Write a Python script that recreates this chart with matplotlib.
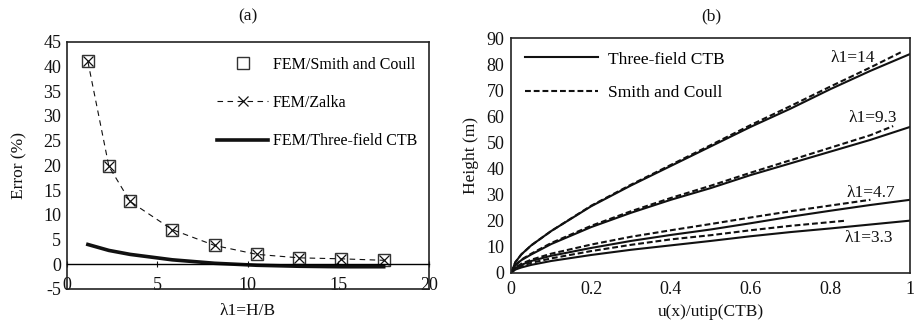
import matplotlib
matplotlib.use("Agg")
import matplotlib.pyplot as plt
import numpy as np

plt.rcParams['font.family'] = ['Liberation Serif', 'DejaVu Serif']
plt.rcParams['font.size'] = 12.5
plt.rcParams['axes.unicode_minus'] = False

# ---- panel (a) data ----
lam = [1.17, 2.33, 3.5, 5.83, 8.17, 10.5, 12.83, 15.17, 17.5]
err_smith = [41.0, 19.8, 12.7, 7.0, 3.8, 2.0, 1.3, 1.1, 0.8]
err_zalka = [41.0, 19.8, 12.7, 7.0, 3.8, 2.0, 1.3, 1.1, 0.8]
err_ctb = [4.0, 2.8, 2.0, 0.9, 0.2, -0.2, -0.4, -0.5, -0.5]

# ---- panel (b) data ----
u_14 = [0, 0.01, 0.025, 0.05, 0.1, 0.2, 0.3, 0.4, 0.5, 0.6, 0.7, 0.8, 0.9, 1.0]
h_14 = [0, 4.0, 7.0, 10.5, 16.0, 25.5, 33.5, 41.0, 48.5, 56.0, 63.0, 70.5, 77.5, 84.0]
us_14 = [0, 0.01, 0.025, 0.05, 0.1, 0.2, 0.3, 0.4, 0.5, 0.6, 0.7, 0.8, 0.9, 0.976]
hs_14 = [0, 4.0, 7.0, 10.5, 16.0, 25.7, 33.8, 41.4, 49.0, 56.7, 64.0, 71.5, 78.8, 84.6]

u_93 = [0, 0.01, 0.025, 0.05, 0.1, 0.2, 0.3, 0.4, 0.5, 0.6, 0.7, 0.8, 0.9, 1.0]
h_93 = [0, 2.8, 4.8, 7.0, 11.0, 17.5, 23.0, 28.0, 32.5, 37.5, 42.0, 46.5, 51.0, 56.0]
us_93 = [0, 0.01, 0.025, 0.05, 0.1, 0.2, 0.3, 0.4, 0.5, 0.6, 0.7, 0.8, 0.9, 0.957]
hs_93 = [0, 2.9, 5.0, 7.3, 11.4, 18.0, 23.6, 28.7, 33.4, 38.4, 43.2, 48.0, 52.8, 56.3]

u_47 = [0, 0.01, 0.025, 0.05, 0.1, 0.2, 0.3, 0.4, 0.5, 0.6, 0.7, 0.8, 0.9, 1.0]
h_47 = [0, 1.8, 3.0, 4.5, 6.5, 9.5, 12.2, 14.5, 16.6, 19.0, 21.5, 23.8, 26.0, 28.0]
us_47 = [0, 0.01, 0.025, 0.05, 0.1, 0.2, 0.3, 0.4, 0.5, 0.6, 0.7, 0.8, 0.9]
hs_47 = [0, 2.0, 3.4, 5.0, 7.3, 10.8, 13.8, 16.3, 18.7, 21.2, 23.6, 25.8, 28.0]

u_33 = [0, 0.01, 0.025, 0.05, 0.1, 0.2, 0.3, 0.4, 0.5, 0.6, 0.7, 0.8, 0.9, 1.0]
h_33 = [0, 1.2, 2.0, 3.0, 4.5, 6.8, 8.8, 10.5, 12.2, 14.0, 15.6, 17.0, 18.5, 20.0]
us_33 = [0, 0.01, 0.025, 0.05, 0.1, 0.2, 0.3, 0.4, 0.5, 0.6, 0.7, 0.84]
hs_33 = [0, 1.5, 2.5, 3.8, 5.5, 8.3, 10.7, 12.8, 14.4, 16.3, 18.0, 20.0]

labels_b = ["λ1=14", "λ1=9.3", "λ1=4.7", "λ1=3.3"]
label_pos = [(0.856, 82.5), (0.905, 59.5), (0.9, 30.5), (0.895, 13.5)]

ink = '#111111'
fig = plt.figure(figsize=(9.16, 3.22), dpi=100)

# ---------------- (a) ----------------
ax1 = fig.add_axes([0.0728, 0.1025, 0.3955, 0.768])
ax1.plot(lam, err_smith, linestyle='none', marker='s', markersize=8,
         markerfacecolor='none', markeredgecolor='#333333', markeredgewidth=1,
         label='FEM/Smith and Coull')
ax1.plot(lam, err_zalka, linestyle=(0, (5, 4)), color=ink, linewidth=0.8,
         marker='x', markersize=7, markeredgewidth=0.9,
         label='FEM/Zalka')
ax1.plot(lam, err_ctb, color=ink, linewidth=2.6, label='FEM/Three-field CTB')
ax1.set_xlim(0, 20)
ax1.set_ylim(-5, 45)
ax1.set_xticks(np.arange(0, 21, 5))
ax1.set_yticks(np.arange(-5, 46, 5))
ax1.spines['bottom'].set_position(('data', 0))
ax1.spines['bottom'].set_linewidth(1.0)
ax1.plot([0, 1], [0, 0], transform=ax1.transAxes, color='#222222',
         linewidth=1.2, clip_on=False)
for s in ['left', 'top', 'right']:
    ax1.spines[s].set_linewidth(1.2)
    ax1.spines[s].set_color('#222222')
ax1.tick_params(axis='x', direction='inout', length=5, pad=6.5, colors=ink,
                labelsize=13)
ax1.tick_params(axis='y', length=0, pad=4, colors=ink, labelsize=13)
ax1.set_xlabel('λ1=H/B', labelpad=7, color=ink, fontsize=12.5)
ax1.set_ylabel('Error (%)', labelpad=11, color=ink, fontsize=12.5)
ax1.set_title('(a)', pad=15, fontsize=12.5, color=ink)
ax1.legend(loc='upper left', bbox_to_anchor=(0.415, 0.94), frameon=False,
           borderpad=0, borderaxespad=0, handlelength=3.2, handletextpad=0.3,
           labelspacing=1.4, fontsize=11.5)

# ---------------- (b) ----------------
ax2 = fig.add_axes([0.5582, 0.1531, 0.4356, 0.728])
dash = (0, (2.8, 1.4))
solid_sets = [(u_14, h_14), (u_93, h_93), (u_47, h_47), (u_33, h_33)]
dash_sets = [(us_14, hs_14), (us_93, hs_93), (us_47, hs_47), (us_33, hs_33)]
for i, (u, h) in enumerate(solid_sets):
    ax2.plot(u, h, color=ink, linewidth=1.5,
             label='Three-field CTB' if i == 0 else None)
for i, (u, h) in enumerate(dash_sets):
    ax2.plot(u, h, color=ink, linewidth=1.5, linestyle=dash,
             label='Smith and Coull' if i == 0 else None)
for txt, (x, y) in zip(labels_b, label_pos):
    ax2.text(x, y, txt, ha='center', va='center', color=ink, fontsize=12.5)
ax2.set_xlim(0, 1)
ax2.set_ylim(0, 90)
ax2.set_xticks([0, 0.2, 0.4, 0.6, 0.8, 1.0])
ax2.set_xticklabels(['0', '0.2', '0.4', '0.6', '0.8', '1'])
ax2.set_yticks(np.arange(0, 91, 10))
for s in ax2.spines.values():
    s.set_linewidth(1.2)
    s.set_color('#222222')
ax2.tick_params(axis='both', length=0, colors=ink, labelsize=13)
ax2.tick_params(axis='x', pad=6)
ax2.tick_params(axis='y', pad=5)
ax2.set_xlabel('u(x)/utip(CTB)', labelpad=4, color=ink, fontsize=12.5)
ax2.set_ylabel('Height (m)', labelpad=5, color=ink, fontsize=12.5)
ax2.set_title('(b)', pad=13, fontsize=12.5, color=ink)
ax2.legend(loc='upper left', bbox_to_anchor=(0.034, 0.944), frameon=False,
           borderpad=0, borderaxespad=0, handlelength=4.2, handletextpad=0.6,
           labelspacing=1.0, fontsize=12.5)

fig.savefig('out.png', dpi=100)
